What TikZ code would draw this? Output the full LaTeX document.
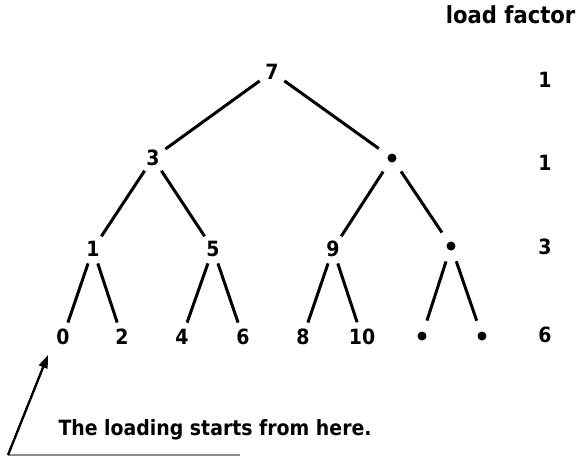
\documentclass[tikz,border=0pt]{standalone}
\usepackage{fontspec}
\setmainfont{DejaVu Sans Condensed}
\usetikzlibrary{arrows.meta}
\begin{document}
\begin{tikzpicture}[x=1pt,y=-1pt,
  key/.style={circle,minimum size=30pt,inner sep=0pt,
              font=\fontsize{21}{21}\selectfont\bfseries},
  hole/.style={circle,minimum size=32pt,inner sep=0pt},
  lf/.style={font=\fontsize{21}{21}\selectfont\bfseries},
  lfhead/.style={font=\fontsize{23.5}{23.5}\selectfont\bfseries},
  branch/.style={line width=3pt},
  note/.style={font=\fontsize{21}{21}\selectfont\bfseries}]
\useasboundingbox (0,0) rectangle (582,459);

% level 1
\node[key] (r) at (272,72) {7};
% level 2
\node[key]  (a) at (153,158) {3};
\node[hole] (b) at (392,158) {};
% level 3
\node[key]  (c) at (93,249) {1};
\node[key]  (d) at (213,249) {5};
\node[key]  (e) at (333,249) {9};
\node[hole] (f) at (451,246) {};
% leaves
\node[key]  (l0) at (63,337) {0};
\node[key]  (l1) at (122,337) {2};
\node[key]  (l2) at (182,337) {4};
\node[key]  (l3) at (243,337) {6};
\node[key]  (l4) at (303,337) {8};
\node[key]  (l5) at (362,337) {10};
\node[hole] (l6) at (422,336) {};
\node[hole] (l7) at (482,336) {};

% empty slots
\foreach \n in {b,f,l6,l7} \fill (\n.center) circle (4.5pt);

% branches
\draw[branch] (r) -- (a);  \draw[branch] (r) -- (b);
\draw[branch] (a) -- (c);  \draw[branch] (a) -- (d);
\draw[branch] (b) -- (e);  \draw[branch] (b) -- (f);
\draw[branch] (c) -- (l0); \draw[branch] (c) -- (l1);
\draw[branch] (d) -- (l2); \draw[branch] (d) -- (l3);
\draw[branch] (e) -- (l4); \draw[branch] (e) -- (l5);
\draw[branch] (f) -- (l6); \draw[branch] (f) -- (l7);

% load factor column
\node[lfhead,anchor=east] (lfh) at (579,15) {load factor};
\node[lf] (lf1) at (545,80) {1};
\node[lf] (lf2) at (545,163) {1};
\node[lf] (lf3) at (545,247) {3};
\node[lf] (lf4) at (545,335) {6};

% annotation
\node[note,anchor=west] (txt) at (55,430) {The loading starts from here.};
\coordinate (base) at (8,455);
\coordinate (baseend) at (240,455);
\coordinate (tip) at (48,355);
\draw[line width=1.2pt,black!45] (base) -- (baseend);
\draw[line width=2.4pt,-{Triangle[length=13pt,width=9pt]}] (base) -- (tip);
\end{tikzpicture}
\end{document}
